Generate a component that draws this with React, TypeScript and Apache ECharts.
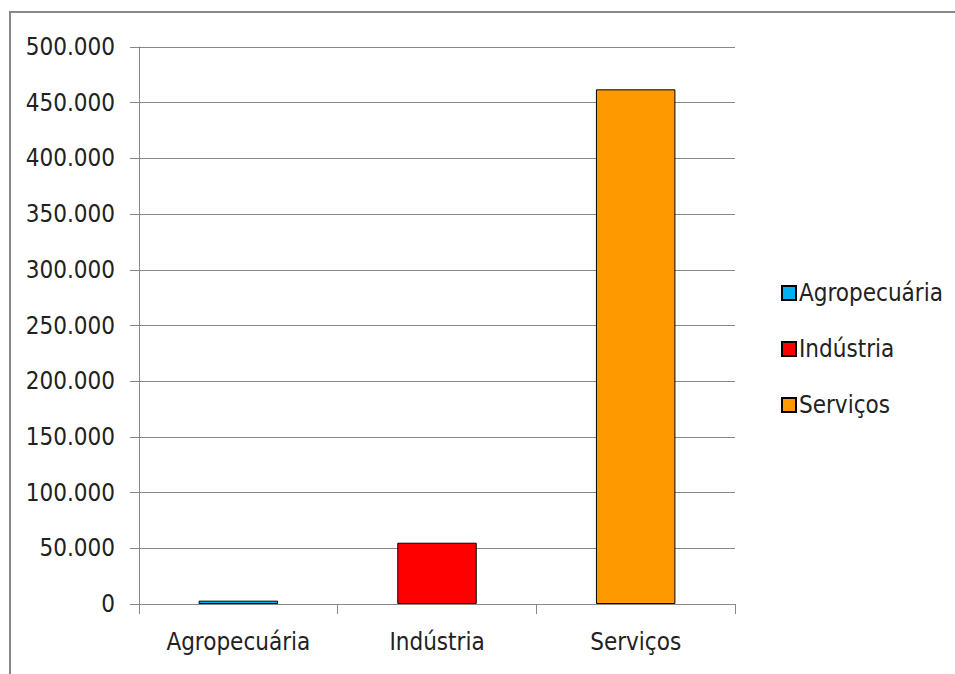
import React, { useEffect, useRef } from "react";
import * as echarts from "echarts";

const categories = ["Agropecuária", "Indústria", "Serviços"];
const seriesNames = ["Agropecuária", "Indústria", "Serviços"];
const seriesValues = [3000, 55000, 462000];
const seriesColors = ["#00B0F0", "#FF0000", "#FF9900"];
const yTicks = { min: 0, max: 500000, interval: 50000 };

const FONT = "'Liberation Sans Narrow', 'DejaVu Sans Condensed', 'Liberation Sans', sans-serif";

export default function App() {
  const ref = useRef<HTMLDivElement>(null);
  useEffect(() => {
    if (!ref.current) return;
    const chart = echarts.init(ref.current, undefined, { renderer: "svg" });
    const series = seriesNames.map((name, i) => ({
      name,
      type: "bar",
      barWidth: "40%",
      barGap: "-100%",
      data: categories.map((_, j) => (j === i ? seriesValues[i] : "-")),
      itemStyle: { color: seriesColors[i], borderColor: "#000", borderWidth: 1 },
    }));
    chart.setOption({
      animation: false,
      backgroundColor: "#fff",
      textStyle: { fontFamily: FONT },
      graphic: [
        {
          type: "rect",
          shape: { x: 10, y: 12, width: 1000, height: 700 },
          style: { fill: "none", stroke: "#888", lineWidth: 2 },
          silent: true,
        },
      ],
      grid: { left: 139, right: 220, top: 47, bottom: 70 },
      legend: {
        orient: "vertical",
        left: 776,
        top: 276,
        itemGap: 32,
        itemWidth: 14,
        itemHeight: 14,
        icon: "rect",
        data: seriesNames,
        textStyle: { fontSize: 24, color: "#222", fontFamily: FONT, padding: [0, 0, 0, -2] },
      },
      xAxis: {
        type: "category",
        data: categories,
        axisLine: { lineStyle: { color: "#888", width: 1 } },
        axisTick: { show: true, length: 10, lineStyle: { color: "#888" } },
        axisLabel: { fontSize: 24, color: "#222", margin: 26, interval: 0, fontFamily: FONT },
        splitLine: { show: false },
      },
      yAxis: {
        type: "value",
        min: yTicks.min,
        max: yTicks.max,
        interval: yTicks.interval,
        axisLine: { show: true, lineStyle: { color: "#888", width: 1 } },
        axisTick: { show: true, length: 9, lineStyle: { color: "#888" } },
        axisLabel: {
          fontSize: 24,
          color: "#222",
          margin: 24,
          fontFamily: FONT,
          formatter: (v: number) => (v === 0 ? "0" : (v / 1000).toFixed(0) + ".000"),
        },
        splitLine: { lineStyle: { color: "#888", width: 1 } },
      },
      series,
    });
    return () => chart.dispose();
  }, []);
  return (
    <div
      ref={ref}
      style={{ position: "fixed", left: 0, top: 0, width: 955, height: 674 }}
    />
  );
}
